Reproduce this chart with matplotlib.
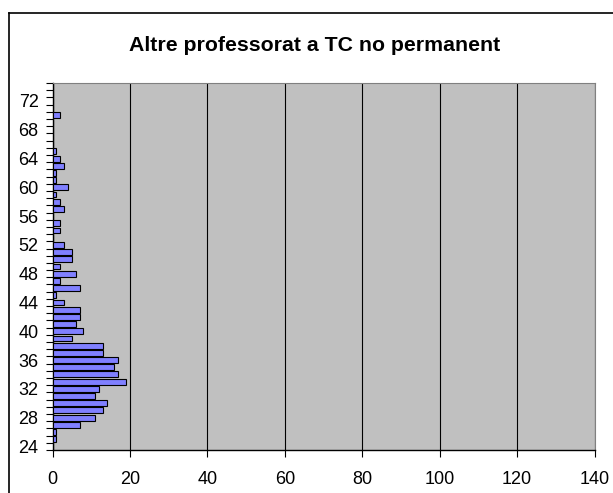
import matplotlib.pyplot as plt
import numpy as np
from matplotlib.lines import Line2D

# age categories and headcount
ages = list(range(24, 75))
counts = [0, 1, 1, 7, 11, 13, 14, 11, 12, 19,
          17, 16, 17, 13, 13, 5, 8, 6, 7, 7,
          3, 1, 7, 2, 6, 2, 5, 5, 3, 0,
          2, 2, 0, 3, 2, 1, 4, 1, 1, 3,
          2, 1, 0, 0, 0, 0, 2, 0, 0, 0,
          0]
title = "Altre professorat a TC no permanent"
x_ticks = [0, 20, 40, 60, 80, 100, 120, 140]
y_labels = list(range(24, 75, 4))

plt.rcParams['font.family'] = ['Liberation Sans', 'DejaVu Sans']

fig = plt.figure(figsize=(6.13, 4.93), dpi=100)
W, H = 613, 493
ax = fig.add_axes([52.5 / W, 1 - 450 / H, (594.5 - 52.5) / W, (450 - 83) / H])

# outer chart frame (only top and left edges are inside the picture)
fy = 1 - 12.5 / H
fx = 8.5 / W
fig.lines.append(Line2D([fx, 1], [fy, fy], transform=fig.transFigure,
                        color='black', linewidth=1.2))
fig.lines.append(Line2D([fx, fx], [0, fy], transform=fig.transFigure,
                        color='black', linewidth=1.2))

ax.set_facecolor('#C0C0C0')
ax.barh(ages, counts, height=0.82, color='#8080FF', edgecolor='black',
        linewidth=0.8, zorder=3)

ax.set_xlim(0, 140)
ax.set_ylim(23.5, 74.5)
ax.set_xticks(x_ticks)
ax.xaxis.grid(True, color='black', linewidth=0.8, zorder=1)

ax.set_yticks(y_labels)
ax.set_yticks(np.arange(23.5, 75, 1), minor=True)
ax.tick_params(axis='y', which='major', length=0, pad=10, labelsize=13)
ax.tick_params(axis='y', which='minor', length=5, width=0.8, direction='out')
ax.tick_params(axis='x', length=5, width=0.8, direction='out', pad=10,
               labelsize=13)

for s in ['top', 'right']:
    ax.spines[s].set_color('#808080')
for s in ['left', 'bottom']:
    ax.spines[s].set_color('black')
    ax.spines[s].set_linewidth(1.0)

fig.text(315 / W, 1 - 45.5 / H, title, ha='center', va='center',
         fontsize=15.3, fontweight='bold')

fig.savefig('out.png', dpi=100)
